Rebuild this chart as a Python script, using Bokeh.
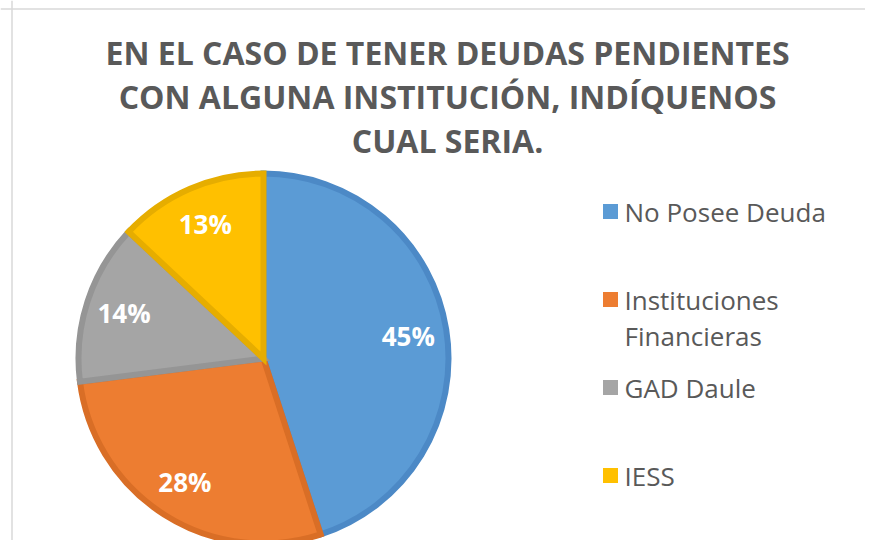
import math
from bokeh.plotting import figure
from bokeh.models import Range1d, Label, Span, ColumnDataSource
from bokeh.core.properties import value
from bokeh.embed import file_html
from bokeh.resources import INLINE

# ---- data ----
categories = ["No Posee Deuda", "Instituciones\nFinancieras", "GAD Daule", "IESS"]
percents = [45, 28, 14, 13]
pct_labels = ["45%", "28%", "14%", "13%"]
fill_colors = ["#5B9BD5", "#ED7D31", "#A5A5A5", "#FFC000"]
line_colors = ["#4C89C6", "#D96E26", "#959595", "#E6AD00"]
title_lines = ["EN EL CASO DE TENER DEUDAS PENDIENTES",
               "CON ALGUNA INSTITUCIÓN, INDÍQUENOS",
               "CUAL SERIA."]

W, H = 865, 540
p = figure(width=W, height=H, output_backend="svg", toolbar_location=None,
           x_range=Range1d(0, W), y_range=Range1d(0, H), min_border=0)
p.axis.visible = False
p.grid.visible = False
p.outline_line_color = None
p.background_fill_color = "white"

# frame lines (light gray) top and left
p.add_layout(Span(location=H - 8.5, dimension="width", line_color="#D9D9D9", line_width=1.5))
p.add_layout(Span(location=11.5, dimension="height", line_color="#D9D9D9", line_width=1.5))

# ---- pie ----
cx, cy, R = 263, 182, 188
total = sum(percents)
starts, ends, mids = [], [], []
cum = 0
for v in percents:
    a0 = math.pi / 2 - 2 * math.pi * cum / total
    cum += v
    a1 = math.pi / 2 - 2 * math.pi * cum / total
    starts.append(a0)
    ends.append(a1)
    mids.append((a0 + a1) / 2)

src = ColumnDataSource(dict(start=starts, end=ends, fill=fill_colors, line=line_colors))
p.wedge(x=cx, y=cy, radius=R - 3, start_angle="start", end_angle="end",
        direction="clock", fill_color="fill", line_color="line", line_width=6,
        line_join="miter", source=src)

lr = 0.78 * R
lx = [cx + lr * math.cos(m) for m in mids]
ly = [cy + lr * math.sin(m) for m in mids]
p.text(x=lx, y=ly, text=pct_labels, text_align="center", text_baseline="middle",
       text_color="white", text_font=value("Open Sans"), text_font_style="bold",
       text_font_size="26px")

# ---- title ----
for i, t in enumerate(title_lines):
    p.add_layout(Label(x=447, y=488 - 44 * i, text=t, text_align="center",
                       text_baseline="middle", text_color="#595959",
                       text_font="Open Sans", text_font_style="bold",
                       text_font_size="32px"))

# ---- legend ----
row0, step = 329, 88
leg_x, txt_x = 610, 624
for i, (c, col) in enumerate(zip(categories, fill_colors)):
    yy = row0 - step * i
    p.scatter(x=[leg_x], y=[yy], marker="square", size=15, fill_color=col,
              line_color=None)
    for j, line in enumerate(c.split("\n")):
        p.add_layout(Label(x=txt_x, y=yy - 36 * j, text=line, text_align="left",
                           text_baseline="middle", text_color="#595959",
                           text_font="Open Sans", text_font_size="26px"))

open("out.html", "w").write(file_html(p, INLINE))
